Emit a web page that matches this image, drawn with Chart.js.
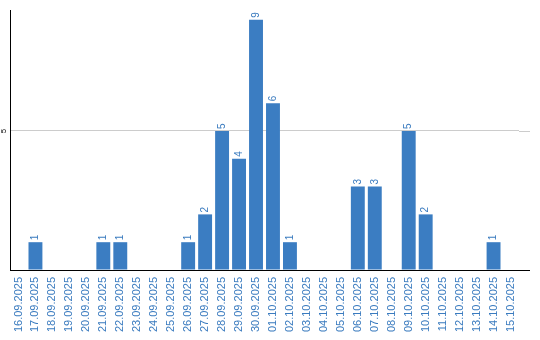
<!DOCTYPE html>
<html>
<head>
<meta charset="utf-8">
<script src="https://cdn.jsdelivr.net/npm/chart.js@4/dist/chart.umd.min.js"></script>
<style>
  html, body { margin: 0; padding: 0; background: #fff; }
  #wrap { width: 540px; height: 340px; }
</style>
</head>
<body>
<div id="wrap"><canvas id="chart"></canvas></div>
<script>
// data
var days = ["16.09.2025","17.09.2025","18.09.2025","19.09.2025","20.09.2025","21.09.2025","22.09.2025","23.09.2025","24.09.2025","25.09.2025",
            "26.09.2025","27.09.2025","28.09.2025","29.09.2025","30.09.2025","01.10.2025","02.10.2025","03.10.2025","04.10.2025","05.10.2025",
            "06.10.2025","07.10.2025","08.10.2025","09.10.2025","10.10.2025","11.10.2025","12.10.2025","13.10.2025","14.10.2025","15.10.2025"];
var counts = [0,1,0,0,0,1,1,0,0,0,
              1,2,5,4,9,6,1,0,0,0,
              3,3,0,5,2,0,0,0,1,0];
var yTicks = [5];

var blue = "#3b7dc2";
var labelBlue = "#3a7bbf";

// values above bars, rotated y tick, and axis lines running past the last bar
var extras = {
  id: "extras",
  afterDatasetsDraw: function(chart) {
    var ctx = chart.ctx;
    var meta = chart.getDatasetMeta(0);
    ctx.save();
    ctx.fillStyle = labelBlue;
    ctx.font = "10px 'Liberation Sans', Arial, sans-serif";
    ctx.textAlign = "left";
    ctx.textBaseline = "middle";
    meta.data.forEach(function(bar, i) {
      if (!counts[i]) return;
      ctx.save();
      ctx.translate(bar.x, bar.y - 2);
      ctx.rotate(-Math.PI / 2);
      ctx.fillText(String(counts[i]), 0, 0);
      ctx.restore();
    });
    ctx.restore();
  },
  afterDraw: function(chart) {
    var ctx = chart.ctx;
    var area = chart.chartArea;
    var y = chart.scales.y;
    ctx.save();
    // y tick labels, rotated
    ctx.fillStyle = "#000";
    ctx.font = "8px 'Liberation Sans', Arial, sans-serif";
    ctx.textAlign = "center";
    ctx.textBaseline = "middle";
    yTicks.forEach(function(t) {
      var py = y.getPixelForValue(t);
      ctx.save();
      ctx.translate(4, py);
      ctx.rotate(-Math.PI / 2);
      ctx.fillText(String(t), 0, 0);
      ctx.restore();
      ctx.strokeStyle = "#cccccc";
      ctx.lineWidth = 1;
      ctx.beginPath();
      ctx.moveTo(area.right, Math.round(py) + 0.5);
      ctx.lineTo(530, Math.round(py) + 0.5);
      ctx.stroke();
    });
    ctx.strokeStyle = "#000";
    ctx.lineWidth = 1;
    ctx.beginPath();
    ctx.moveTo(area.right - 1, area.bottom + 0.5);
    ctx.lineTo(530, area.bottom + 0.5);
    ctx.stroke();
    ctx.restore();
  }
};

var chart = new Chart(document.getElementById("chart").getContext("2d"), {
  type: "bar",
  data: {
    labels: days,
    datasets: [{
      data: counts,
      backgroundColor: blue,
      borderWidth: 0,
      barPercentage: 0.82,
      categoryPercentage: 1.0
    }]
  },
  options: {
    responsive: true,
    maintainAspectRatio: false,
    animation: false,
    layout: { padding: { top: 10, right: 21, left: 0, bottom: 0 } },
    plugins: { legend: { display: false }, tooltip: { enabled: false } },
    scales: {
      x: {
        grid: { display: false, drawTicks: false },
        border: { display: true, color: "#000", width: 1 },
        ticks: {
          color: labelBlue,
          font: { family: "'Liberation Sans', Arial, sans-serif", size: 11 },
          minRotation: 90,
          maxRotation: 90,
          autoSkip: false,
          padding: 7
        },
        afterFit: function(scale) { scale.height = 70; }
      },
      y: {
        min: 0,
        max: 9.35,
        ticks: { display: false, stepSize: 5 },
        grid: {
          drawTicks: false,
          color: function(c) { return c.tick && c.tick.value === 5 ? "#cccccc" : "rgba(0,0,0,0)"; }
        },
        border: { display: true, color: "#000", width: 1 },
        afterFit: function(scale) { scale.width = 10; }
      }
    }
  },
  plugins: [extras]
});
</script>
</body>
</html>
